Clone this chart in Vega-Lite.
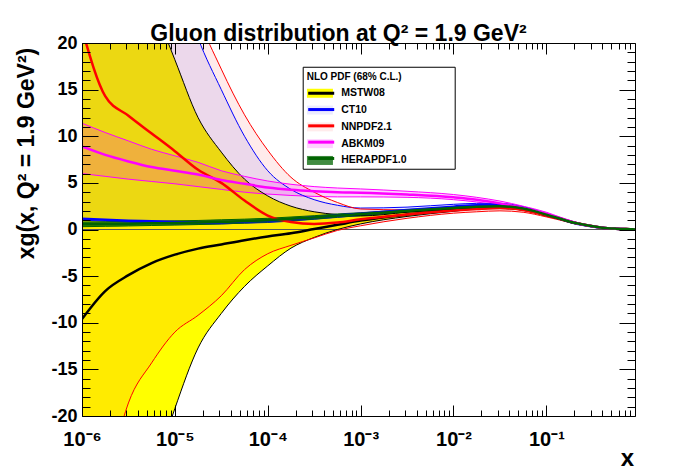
{
  "$schema": "https://vega.github.io/schema/vega-lite/v6.json",
  "width": 553,
  "height": 373,
  "autosize": {"type": "none"},
  "padding": {"left": 82, "top": 43, "right": 42, "bottom": 53},
  "background": "white",
  "title": {
    "text": "Gluon distribution at Q² = 1.9 GeV²",
    "font": "Liberation Sans",
    "fontSize": 23,
    "fontWeight": "bold",
    "color": "black",
    "anchor": "middle",
    "dx": -20,
    "dy": 35,
    "offset": 5,
    "baseline": "alphabetic"
  },
  "data": {
    "values": [
      {"pdf": "MSTW08", "x": 1e-6, "lo": -60, "c": -9.6, "hi": 45},
      {"pdf": "MSTW08", "x": 1.778e-6, "lo": -48, "c": -6.6, "hi": 37},
      {"pdf": "MSTW08", "x": 3.162e-6, "lo": -36, "c": -4.9, "hi": 30},
      {"pdf": "MSTW08", "x": 5.623e-6, "lo": -27, "c": -3.6, "hi": 24.5},
      {"pdf": "MSTW08", "x": 1e-5, "lo": -19.2, "c": -2.7, "hi": 18.2},
      {"pdf": "MSTW08", "x": 1.778e-5, "lo": -12.7, "c": -2.05, "hi": 12},
      {"pdf": "MSTW08", "x": 3.162e-5, "lo": -9, "c": -1.6, "hi": 8.3},
      {"pdf": "MSTW08", "x": 5.623e-5, "lo": -6.1, "c": -1.15, "hi": 5.4},
      {"pdf": "MSTW08", "x": 1e-4, "lo": -3.9, "c": -0.75, "hi": 3.6},
      {"pdf": "MSTW08", "x": 1.778e-4, "lo": -2, "c": -0.4, "hi": 2.5},
      {"pdf": "MSTW08", "x": 3.162e-4, "lo": -0.85, "c": 0.05, "hi": 1.9},
      {"pdf": "MSTW08", "x": 5.623e-4, "lo": 0, "c": 0.5, "hi": 1.6},
      {"pdf": "MSTW08", "x": 0.001, "lo": 0.6, "c": 0.95, "hi": 1.45},
      {"pdf": "MSTW08", "x": 0.003162, "lo": 1.4, "c": 1.6, "hi": 1.85},
      {"pdf": "MSTW08", "x": 0.01, "lo": 1.95, "c": 2.1, "hi": 2.25},
      {"pdf": "MSTW08", "x": 0.01778, "lo": 2.2, "c": 2.3, "hi": 2.42},
      {"pdf": "MSTW08", "x": 0.03162, "lo": 2.25, "c": 2.35, "hi": 2.45},
      {"pdf": "MSTW08", "x": 0.05623, "lo": 2.05, "c": 2.15, "hi": 2.25},
      {"pdf": "MSTW08", "x": 0.1, "lo": 1.45, "c": 1.55, "hi": 1.65},
      {"pdf": "MSTW08", "x": 0.1413, "lo": 1.05, "c": 1.15, "hi": 1.25},
      {"pdf": "MSTW08", "x": 0.1995, "lo": 0.66, "c": 0.72, "hi": 0.8},
      {"pdf": "MSTW08", "x": 0.2818, "lo": 0.38, "c": 0.42, "hi": 0.46},
      {"pdf": "MSTW08", "x": 0.3981, "lo": 0.17, "c": 0.2, "hi": 0.23},
      {"pdf": "MSTW08", "x": 0.5623, "lo": 0.07, "c": 0.09, "hi": 0.11},
      {"pdf": "MSTW08", "x": 0.7943, "lo": 0.02, "c": 0.03, "hi": 0.04},
      {"pdf": "MSTW08", "x": 0.9, "lo": 0, "c": 0.01, "hi": 0.01},

      {"pdf": "CT10", "x": 1e-6, "lo": 1.0, "c": 1.15, "hi": 50},
      {"pdf": "CT10", "x": 1.778e-6, "lo": 0.9, "c": 1.05, "hi": 45},
      {"pdf": "CT10", "x": 3.162e-6, "lo": 0.8, "c": 0.95, "hi": 40},
      {"pdf": "CT10", "x": 5.623e-6, "lo": 0.7, "c": 0.88, "hi": 34},
      {"pdf": "CT10", "x": 1e-5, "lo": 0.6, "c": 0.8, "hi": 28},
      {"pdf": "CT10", "x": 1.778e-5, "lo": 0.58, "c": 0.76, "hi": 20.5},
      {"pdf": "CT10", "x": 3.162e-5, "lo": 0.6, "c": 0.78, "hi": 15},
      {"pdf": "CT10", "x": 5.623e-5, "lo": 0.68, "c": 0.85, "hi": 10},
      {"pdf": "CT10", "x": 1e-4, "lo": 0.75, "c": 0.95, "hi": 6.3},
      {"pdf": "CT10", "x": 1.778e-4, "lo": 0.9, "c": 1.1, "hi": 4.3},
      {"pdf": "CT10", "x": 3.162e-4, "lo": 1.1, "c": 1.3, "hi": 3.2},
      {"pdf": "CT10", "x": 5.623e-4, "lo": 1.3, "c": 1.5, "hi": 2.6},
      {"pdf": "CT10", "x": 0.001, "lo": 1.5, "c": 1.7, "hi": 2.3},
      {"pdf": "CT10", "x": 0.003162, "lo": 1.95, "c": 2.1, "hi": 2.4},
      {"pdf": "CT10", "x": 0.01, "lo": 2.3, "c": 2.45, "hi": 2.7},
      {"pdf": "CT10", "x": 0.01778, "lo": 2.45, "c": 2.6, "hi": 2.8},
      {"pdf": "CT10", "x": 0.03162, "lo": 2.45, "c": 2.6, "hi": 2.8},
      {"pdf": "CT10", "x": 0.05623, "lo": 2.15, "c": 2.3, "hi": 2.45},
      {"pdf": "CT10", "x": 0.1, "lo": 1.5, "c": 1.6, "hi": 1.7},
      {"pdf": "CT10", "x": 0.1413, "lo": 1.07, "c": 1.15, "hi": 1.23},
      {"pdf": "CT10", "x": 0.1995, "lo": 0.65, "c": 0.7, "hi": 0.75},
      {"pdf": "CT10", "x": 0.2818, "lo": 0.37, "c": 0.4, "hi": 0.43},
      {"pdf": "CT10", "x": 0.3981, "lo": 0.16, "c": 0.18, "hi": 0.2},
      {"pdf": "CT10", "x": 0.5623, "lo": 0.07, "c": 0.08, "hi": 0.09},
      {"pdf": "CT10", "x": 0.7943, "lo": 0.02, "c": 0.02, "hi": 0.03},
      {"pdf": "CT10", "x": 0.9, "lo": 0, "c": 0, "hi": 0},

      {"pdf": "NNPDF2.1", "x": 1e-6, "lo": -40, "c": 21.5, "hi": 60},
      {"pdf": "NNPDF2.1", "x": 1.778e-6, "lo": -28, "c": 14.3, "hi": 52},
      {"pdf": "NNPDF2.1", "x": 3.162e-6, "lo": -18.6, "c": 12.2, "hi": 45},
      {"pdf": "NNPDF2.1", "x": 5.623e-6, "lo": -14.3, "c": 10.3, "hi": 38},
      {"pdf": "NNPDF2.1", "x": 1e-5, "lo": -11, "c": 8.4, "hi": 32},
      {"pdf": "NNPDF2.1", "x": 1.778e-5, "lo": -9.2, "c": 6.4, "hi": 23},
      {"pdf": "NNPDF2.1", "x": 3.162e-5, "lo": -7.1, "c": 5, "hi": 17.2},
      {"pdf": "NNPDF2.1", "x": 5.623e-5, "lo": -4.3, "c": 3.1, "hi": 12.3},
      {"pdf": "NNPDF2.1", "x": 1e-4, "lo": -2.6, "c": 1.5, "hi": 8.5},
      {"pdf": "NNPDF2.1", "x": 1.778e-4, "lo": -1.7, "c": 0.8, "hi": 5.6},
      {"pdf": "NNPDF2.1", "x": 3.162e-4, "lo": -0.9, "c": 0.6, "hi": 4},
      {"pdf": "NNPDF2.1", "x": 5.623e-4, "lo": -0.1, "c": 0.75, "hi": 2.9},
      {"pdf": "NNPDF2.1", "x": 0.001, "lo": 0.4, "c": 1.1, "hi": 2.2},
      {"pdf": "NNPDF2.1", "x": 0.003162, "lo": 1.2, "c": 1.6, "hi": 2.1},
      {"pdf": "NNPDF2.1", "x": 0.01, "lo": 1.75, "c": 2.05, "hi": 2.35},
      {"pdf": "NNPDF2.1", "x": 0.01778, "lo": 1.9, "c": 2.2, "hi": 2.5},
      {"pdf": "NNPDF2.1", "x": 0.03162, "lo": 2, "c": 2.3, "hi": 2.55},
      {"pdf": "NNPDF2.1", "x": 0.05623, "lo": 1.85, "c": 2.1, "hi": 2.3},
      {"pdf": "NNPDF2.1", "x": 0.1, "lo": 1.35, "c": 1.55, "hi": 1.7},
      {"pdf": "NNPDF2.1", "x": 0.1413, "lo": 1, "c": 1.15, "hi": 1.28},
      {"pdf": "NNPDF2.1", "x": 0.1995, "lo": 0.62, "c": 0.72, "hi": 0.82},
      {"pdf": "NNPDF2.1", "x": 0.2818, "lo": 0.36, "c": 0.42, "hi": 0.48},
      {"pdf": "NNPDF2.1", "x": 0.3981, "lo": 0.16, "c": 0.2, "hi": 0.24},
      {"pdf": "NNPDF2.1", "x": 0.5623, "lo": 0.07, "c": 0.09, "hi": 0.11},
      {"pdf": "NNPDF2.1", "x": 0.7943, "lo": 0.02, "c": 0.03, "hi": 0.04},
      {"pdf": "NNPDF2.1", "x": 0.9, "lo": 0, "c": 0.01, "hi": 0.01},

      {"pdf": "ABKM09", "x": 1e-6, "lo": 6, "c": 8.9, "hi": 11.4},
      {"pdf": "ABKM09", "x": 1.778e-6, "lo": 5.7, "c": 8, "hi": 10.4},
      {"pdf": "ABKM09", "x": 3.162e-6, "lo": 5.4, "c": 7.3, "hi": 9.5},
      {"pdf": "ABKM09", "x": 5.623e-6, "lo": 5.15, "c": 6.7, "hi": 8.6},
      {"pdf": "ABKM09", "x": 1e-5, "lo": 4.9, "c": 6.3, "hi": 7.9},
      {"pdf": "ABKM09", "x": 1.778e-5, "lo": 4.6, "c": 5.9, "hi": 7.2},
      {"pdf": "ABKM09", "x": 3.162e-5, "lo": 4.3, "c": 5.3, "hi": 6.3},
      {"pdf": "ABKM09", "x": 5.623e-5, "lo": 4, "c": 4.9, "hi": 5.7},
      {"pdf": "ABKM09", "x": 1e-4, "lo": 3.8, "c": 4.5, "hi": 5.2},
      {"pdf": "ABKM09", "x": 1.778e-4, "lo": 3.65, "c": 4.25, "hi": 4.85},
      {"pdf": "ABKM09", "x": 3.162e-4, "lo": 3.55, "c": 4.1, "hi": 4.6},
      {"pdf": "ABKM09", "x": 5.623e-4, "lo": 3.5, "c": 4, "hi": 4.45},
      {"pdf": "ABKM09", "x": 0.001, "lo": 3.5, "c": 3.95, "hi": 4.35},
      {"pdf": "ABKM09", "x": 0.003162, "lo": 3.45, "c": 3.75, "hi": 4.1},
      {"pdf": "ABKM09", "x": 0.01, "lo": 3.2, "c": 3.45, "hi": 3.75},
      {"pdf": "ABKM09", "x": 0.01778, "lo": 2.95, "c": 3.2, "hi": 3.45},
      {"pdf": "ABKM09", "x": 0.03162, "lo": 2.55, "c": 2.8, "hi": 3.05},
      {"pdf": "ABKM09", "x": 0.05623, "lo": 2.1, "c": 2.3, "hi": 2.5},
      {"pdf": "ABKM09", "x": 0.1, "lo": 1.55, "c": 1.7, "hi": 1.85},
      {"pdf": "ABKM09", "x": 0.1413, "lo": 1.1, "c": 1.2, "hi": 1.32},
      {"pdf": "ABKM09", "x": 0.1995, "lo": 0.68, "c": 0.75, "hi": 0.83},
      {"pdf": "ABKM09", "x": 0.2818, "lo": 0.38, "c": 0.42, "hi": 0.47},
      {"pdf": "ABKM09", "x": 0.3981, "lo": 0.18, "c": 0.2, "hi": 0.23},
      {"pdf": "ABKM09", "x": 0.5623, "lo": 0.08, "c": 0.09, "hi": 0.1},
      {"pdf": "ABKM09", "x": 0.7943, "lo": 0.02, "c": 0.03, "hi": 0.03},
      {"pdf": "ABKM09", "x": 0.9, "lo": 0, "c": 0.01, "hi": 0.01},

      {"pdf": "HERAPDF1.0", "x": 1e-6, "lo": 0.3, "c": 0.55, "hi": 0.8},
      {"pdf": "HERAPDF1.0", "x": 1.778e-6, "lo": 0.34, "c": 0.58, "hi": 0.82},
      {"pdf": "HERAPDF1.0", "x": 3.162e-6, "lo": 0.38, "c": 0.62, "hi": 0.86},
      {"pdf": "HERAPDF1.0", "x": 5.623e-6, "lo": 0.43, "c": 0.66, "hi": 0.89},
      {"pdf": "HERAPDF1.0", "x": 1e-5, "lo": 0.47, "c": 0.7, "hi": 0.93},
      {"pdf": "HERAPDF1.0", "x": 1.778e-5, "lo": 0.53, "c": 0.75, "hi": 0.97},
      {"pdf": "HERAPDF1.0", "x": 3.162e-5, "lo": 0.6, "c": 0.82, "hi": 1.04},
      {"pdf": "HERAPDF1.0", "x": 5.623e-5, "lo": 0.69, "c": 0.9, "hi": 1.11},
      {"pdf": "HERAPDF1.0", "x": 1e-4, "lo": 0.8, "c": 1, "hi": 1.2},
      {"pdf": "HERAPDF1.0", "x": 1.778e-4, "lo": 0.96, "c": 1.15, "hi": 1.34},
      {"pdf": "HERAPDF1.0", "x": 3.162e-4, "lo": 1.12, "c": 1.3, "hi": 1.48},
      {"pdf": "HERAPDF1.0", "x": 5.623e-4, "lo": 1.33, "c": 1.5, "hi": 1.67},
      {"pdf": "HERAPDF1.0", "x": 0.001, "lo": 1.5, "c": 1.65, "hi": 1.8},
      {"pdf": "HERAPDF1.0", "x": 0.003162, "lo": 1.87, "c": 2, "hi": 2.13},
      {"pdf": "HERAPDF1.0", "x": 0.01, "lo": 2.18, "c": 2.3, "hi": 2.42},
      {"pdf": "HERAPDF1.0", "x": 0.01778, "lo": 2.34, "c": 2.45, "hi": 2.56},
      {"pdf": "HERAPDF1.0", "x": 0.03162, "lo": 2.4, "c": 2.5, "hi": 2.6},
      {"pdf": "HERAPDF1.0", "x": 0.05623, "lo": 2.15, "c": 2.25, "hi": 2.35},
      {"pdf": "HERAPDF1.0", "x": 0.1, "lo": 1.52, "c": 1.6, "hi": 1.68},
      {"pdf": "HERAPDF1.0", "x": 0.1413, "lo": 1.09, "c": 1.15, "hi": 1.21},
      {"pdf": "HERAPDF1.0", "x": 0.1995, "lo": 0.68, "c": 0.72, "hi": 0.76},
      {"pdf": "HERAPDF1.0", "x": 0.2818, "lo": 0.39, "c": 0.42, "hi": 0.45},
      {"pdf": "HERAPDF1.0", "x": 0.3981, "lo": 0.18, "c": 0.2, "hi": 0.22},
      {"pdf": "HERAPDF1.0", "x": 0.5623, "lo": 0.08, "c": 0.09, "hi": 0.1},
      {"pdf": "HERAPDF1.0", "x": 0.7943, "lo": 0.02, "c": 0.03, "hi": 0.04},
      {"pdf": "HERAPDF1.0", "x": 0.9, "lo": 0, "c": 0.01, "hi": 0.01}
    ]
  },
  "layer": [
    {
      "mark": {"type": "area", "clip": true, "interpolate": "monotone"},
      "encoding": {
        "x": {
          "field": "x", "type": "quantitative",
          "scale": {"type": "log", "domain": [1e-6, 0.9], "nice": false},
          "axis": {
            "orient": "bottom",
            "values": [1e-6, 1e-5, 1e-4, 1e-3, 1e-2, 1e-1],
            "tickSize": -11,
            "labelExpr": "['10⁻⁶','10⁻⁵','10⁻⁴','10⁻³','10⁻²','10⁻¹'][round(log(datum.value)/LN10)+6]",
            "labelFontSize": 20,
            "labelPadding": 24,
            "labelFlush": false,
            "labelOverlap": false,
            "title": "x",
            "titleFontSize": 24,
            "titleX": 545,
            "titleY": 49,
            "titleAlign": "center",
            "titleBaseline": "alphabetic",
            "zindex": 1
          }
        },
        "y": {
          "field": "lo", "type": "quantitative",
          "scale": {"domain": [-20, 20], "nice": false, "zero": false},
          "axis": {
            "orient": "left",
            "values": [-20, -15, -10, -5, 0, 5, 10, 15, 20],
            "tickSize": -16,
            "labelExpr": "'' + datum.value",
            "labelFontSize": 18,
            "labelPadding": 21,
            "title": "xg(x, Q² = 1.9 GeV²)",
            "titleFontSize": 23,
            "titleX": -49,
            "titleY": 110,
            "titleAlign": "center",
            "titleBaseline": "alphabetic",
            "zindex": 1
          }
        },
        "y2": {"field": "hi"},
        "fill": {
          "field": "pdf", "type": "nominal",
          "scale": {
            "domain": ["MSTW08", "CT10", "NNPDF2.1", "ABKM09", "HERAPDF1.0"],
            "range": ["#ffff00", "rgba(0,0,255,0.08)", "rgba(255,0,0,0.08)", "rgba(255,0,255,0.18)", "rgba(0,100,0,0.75)"]
          },
          "legend": {
            "orient": "none",
            "legendX": 220.7,
            "legendY": 25,
            "title": "NLO PDF (68% C.L.)",
            "titleFontSize": 10,
            "titlePadding": 6,
            "labelFontSize": 10.5,
            "labelOffset": 24,
            "rowPadding": 5.8,
            "padding": 4,
            "symbolType": "M-1,-0.9H4.2V0.9H-1Z",
            "symbolSize": 100,
            "symbolStrokeWidth": 0
          }
        }
      }
    },
    {
      "mark": {"type": "rule", "color": "#555555", "strokeWidth": 1},
      "encoding": {"y": {"datum": 0, "axis": null}}
    },
    {
      "mark": {"type": "line", "clip": true, "interpolate": "monotone", "strokeWidth": 1},
      "encoding": {
        "x": {
          "field": "x", "type": "quantitative",
          "axis": {
            "orient": "bottom",
            "values": [2e-6, 3e-6, 4e-6, 5e-6, 6e-6, 7e-6, 8e-6, 9e-6, 2e-5, 3e-5, 4e-5, 5e-5, 6e-5, 7e-5, 8e-5, 9e-5, 2e-4, 3e-4, 4e-4, 5e-4, 6e-4, 7e-4, 8e-4, 9e-4, 0.002, 0.003, 0.004, 0.005, 0.006, 0.007, 0.008, 0.009, 0.02, 0.03, 0.04, 0.05, 0.06, 0.07, 0.08, 0.09, 0.2, 0.3, 0.4, 0.5, 0.6, 0.7, 0.8],
            "tickSize": -6, "labels": false, "domain": false, "title": null, "zindex": 1
          }
        },
        "y": {
          "field": "lo", "type": "quantitative",
          "axis": {
            "orient": "left",
            "values": [-19, -18, -17, -16, -14, -13, -12, -11, -9, -8, -7, -6, -4, -3, -2, -1, 1, 2, 3, 4, 6, 7, 8, 9, 11, 12, 13, 14, 16, 17, 18, 19],
            "tickSize": -8, "labels": false, "domain": false, "title": null, "zindex": 1
          }
        },
        "stroke": {
          "field": "pdf", "type": "nominal",
          "sort": ["MSTW08", "CT10", "NNPDF2.1", "ABKM09", "HERAPDF1.0"],
          "scale": {"range": ["#000000", "#0000ff", "#ff0000", "#ff00ff", "#006400"]},
          "legend": {
            "orient": "none",
            "legendX": 220.7,
            "legendY": 23.75,
            "title": "NLO PDF (68% C.L.)",
            "titleFontSize": 10,
            "titlePadding": 6,
            "titleColor": "transparent",
            "labelFontSize": 10.5,
            "labelOffset": 24,
            "labelColor": "transparent",
            "labelExpr": "datum.label + '..............'",
            "rowPadding": 3.3,
            "padding": 4,
            "strokeColor": "black",
            "symbolType": "M-1,0H4.2",
            "symbolSize": 100,
            "symbolStrokeWidth": 3,
            "symbolFillColor": "transparent"
          }
        }
      }
    },
    {
      "mark": {"type": "line", "clip": true, "interpolate": "monotone", "strokeWidth": 1},
      "encoding": {
        "x": {
          "field": "x", "type": "quantitative",
          "axis": {
            "orient": "top",
            "values": [1e-6, 1e-5, 1e-4, 1e-3, 1e-2, 1e-1],
            "tickSize": -11, "labels": false, "title": null, "zindex": 1
          }
        },
        "y": {
          "field": "hi", "type": "quantitative",
          "axis": {
            "orient": "right",
            "values": [-20, -15, -10, -5, 0, 5, 10, 15, 20],
            "tickSize": -16, "labels": false, "title": null, "zindex": 1
          }
        },
        "stroke": {
          "field": "pdf", "type": "nominal",
          "sort": ["MSTW08", "CT10", "NNPDF2.1", "ABKM09", "HERAPDF1.0"]
        }
      }
    },
    {
      "mark": {"type": "line", "clip": true, "interpolate": "monotone", "strokeWidth": 2.5},
      "encoding": {
        "x": {
          "field": "x", "type": "quantitative",
          "axis": {
            "orient": "top",
            "values": [2e-6, 3e-6, 4e-6, 5e-6, 6e-6, 7e-6, 8e-6, 9e-6, 2e-5, 3e-5, 4e-5, 5e-5, 6e-5, 7e-5, 8e-5, 9e-5, 2e-4, 3e-4, 4e-4, 5e-4, 6e-4, 7e-4, 8e-4, 9e-4, 0.002, 0.003, 0.004, 0.005, 0.006, 0.007, 0.008, 0.009, 0.02, 0.03, 0.04, 0.05, 0.06, 0.07, 0.08, 0.09, 0.2, 0.3, 0.4, 0.5, 0.6, 0.7, 0.8],
            "tickSize": -6, "labels": false, "domain": false, "title": null, "zindex": 1
          }
        },
        "y": {
          "field": "c", "type": "quantitative",
          "axis": {
            "orient": "right",
            "values": [-19, -18, -17, -16, -14, -13, -12, -11, -9, -8, -7, -6, -4, -3, -2, -1, 1, 2, 3, 4, 6, 7, 8, 9, 11, 12, 13, 14, 16, 17, 18, 19],
            "tickSize": -8, "labels": false, "domain": false, "title": null, "zindex": 1
          }
        },
        "stroke": {
          "field": "pdf", "type": "nominal",
          "sort": ["MSTW08", "CT10", "NNPDF2.1", "ABKM09", "HERAPDF1.0"]
        }
      }
    }
  ],
  "resolve": {"axis": {"x": "independent", "y": "independent"}},
  "config": {
    "view": {"stroke": null},
    "font": "Liberation Sans",
    "axis": {
      "grid": false,
      "domainColor": "black",
      "domainWidth": 1,
      "tickColor": "black",
      "tickWidth": 1,
      "labelFont": "Liberation Sans",
      "labelFontWeight": "bold",
      "labelColor": "black",
      "titleFont": "Liberation Sans",
      "titleFontWeight": "bold",
      "titleColor": "black"
    },
    "legend": {
      "titleFont": "Liberation Sans",
      "titleFontWeight": "bold",
      "titleColor": "black",
      "labelFont": "Liberation Sans",
      "labelFontWeight": "bold",
      "labelColor": "black"
    }
  }
}
